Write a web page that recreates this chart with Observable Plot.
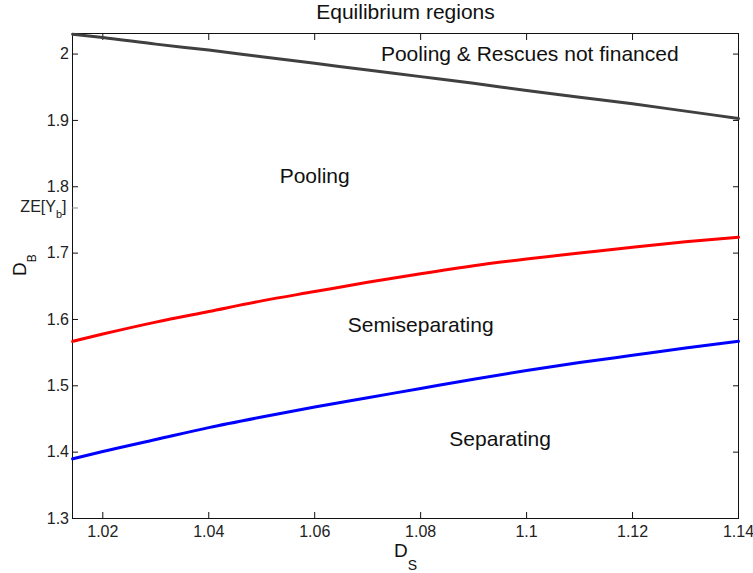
<!DOCTYPE html>
<html><head><meta charset="utf-8">
<script src="https://cdn.jsdelivr.net/npm/d3@7"></script>
<script src="https://cdn.jsdelivr.net/npm/@observablehq/plot@0.6"></script>
<style>body{margin:0;background:#fff} svg{display:block}</style>
</head><body><div id="chart"></div>
<script>
// D_S grid
const ds = [1.0143, 1.02, 1.03, 1.04, 1.05, 1.06, 1.07, 1.08, 1.09, 1.10, 1.11, 1.12, 1.13, 1.14];
// boundary: Pooling & Rescues not financed / Pooling (gray)
const rescueBound = [2.030, 2.025, 2.015, 2.006, 1.996, 1.986, 1.976, 1.966, 1.956, 1.945, 1.935, 1.925, 1.914, 1.903];
// boundary: Pooling / Semiseparating (red)
const semisepBound = [1.567, 1.578, 1.596, 1.612, 1.628, 1.642, 1.656, 1.669, 1.681, 1.691, 1.700, 1.709, 1.717, 1.724];
// boundary: Semiseparating / Separating (blue)
const sepBound = [1.390, 1.401, 1.419, 1.437, 1.453, 1.468, 1.482, 1.496, 1.510, 1.523, 1.535, 1.546, 1.557, 1.567];

const xTicks = [1.02, 1.04, 1.06, 1.08, 1.1, 1.12, 1.14];
const yTicks = [1.3, 1.4, 1.5, 1.6, 1.7, 1.8, 1.9, 2];
const zeTick = [1.768];

const regionNames = ["Pooling & Rescues not financed", "Pooling", "Semiseparating", "Separating"];
const regionX = [1.1006, 1.06, 1.08, 1.095];
const regionY = [1.990, 1.806, 1.581, 1.410];

const rows = (ys) => ds.map((x, i) => ({x, y: ys[i]}));
const labels = regionNames.map((t, i) => ({t, x: regionX[i], y: regionY[i]}));

const font = "'Liberation Sans', Arial, Helvetica, sans-serif";

const plot = Plot.plot({
  width: 753,
  height: 573,
  marginLeft: 72,
  marginRight: 15,
  marginTop: 33,
  marginBottom: 55,
  style: {fontFamily: font, background: "#fff", color: "#222", fontSize: "16px"},
  x: {domain: [1.01428, 1.14]},
  y: {domain: [1.3, 2.031]},
  marks: [
    Plot.frame({stroke: "#111", strokeWidth: 1}),
    Plot.axisX({ticks: xTicks, tickFormat: d => `${d}`, tickSize: -6, tickPadding: 13, fontSize: 16, label: null, stroke: "#111"}),
    Plot.axisX({anchor: "top", ticks: xTicks, tickSize: -6, text: null, label: null, stroke: "#111"}),
    Plot.axisY({ticks: yTicks, tickFormat: d => `${d}`, tickSize: -6, tickPadding: 9.5, fontSize: 16, label: null, stroke: "#111"}),
    Plot.axisY({anchor: "right", ticks: yTicks, tickSize: -6, text: null, label: null, stroke: "#111"}),
    Plot.axisY({ticks: zeTick, tickSize: -6, text: null, label: null, stroke: "#888"}),
    Plot.text(zeTick, {y: d => d, text: () => "ZE[Y]", frameAnchor: "left", textAnchor: "end", dx: -6, dy: -1, fontSize: 16, fill: "#222", ariaLabel: () => "zelab"}),
    Plot.line(rows(sepBound), {x: "x", y: "y", stroke: "#0000ff", strokeWidth: 3, curve: "monotone-x"}),
    Plot.line(rows(semisepBound), {x: "x", y: "y", stroke: "#ff0000", strokeWidth: 3, curve: "monotone-x"}),
    Plot.line(rows(rescueBound), {x: "x", y: "y", stroke: "#404040", strokeWidth: 3, curve: "monotone-x"}),
    Plot.text(labels, {x: "x", y: "y", text: "t", lineAnchor: "bottom", fontSize: 21, fill: "#111"}),
    Plot.text(["Equilibrium regions"], {frameAnchor: "top", lineAnchor: "bottom", dy: -14.5, fontSize: 21, fill: "#111"}),
    Plot.text(["D"], {frameAnchor: "bottom", lineAnchor: "bottom", dy: 38.5, fontSize: 19, fill: "#111", ariaLabel: () => "xlab"}),
    Plot.text(["D"], {frameAnchor: "left", lineAnchor: "bottom", rotate: -90, dx: -47, fontSize: 19, fill: "#111", ariaLabel: () => "ylab"})
  ]
});

document.getElementById("chart").appendChild(plot);

// subscripts
function subscript(label, base, sub, size, shift, tail) {
  d3.select(plot).selectAll(`text[aria-label="${label}"], g[aria-label="${label}"] text`).each(function() {
    const t = d3.select(this);
    t.text(null);
    t.append("tspan").text(base);
    t.append("tspan").attr("font-size", size).attr("dy", shift).text(sub);
    if (tail) t.append("tspan").attr("dy", -shift).text(tail);
  });
}
subscript("xlab", "D", "S", 14, 13, null);
subscript("ylab", "D", "B", 12, 10, null);
subscript("zelab", "ZE[Y", "b", 11, 6, "]");
</script>
</body></html>
